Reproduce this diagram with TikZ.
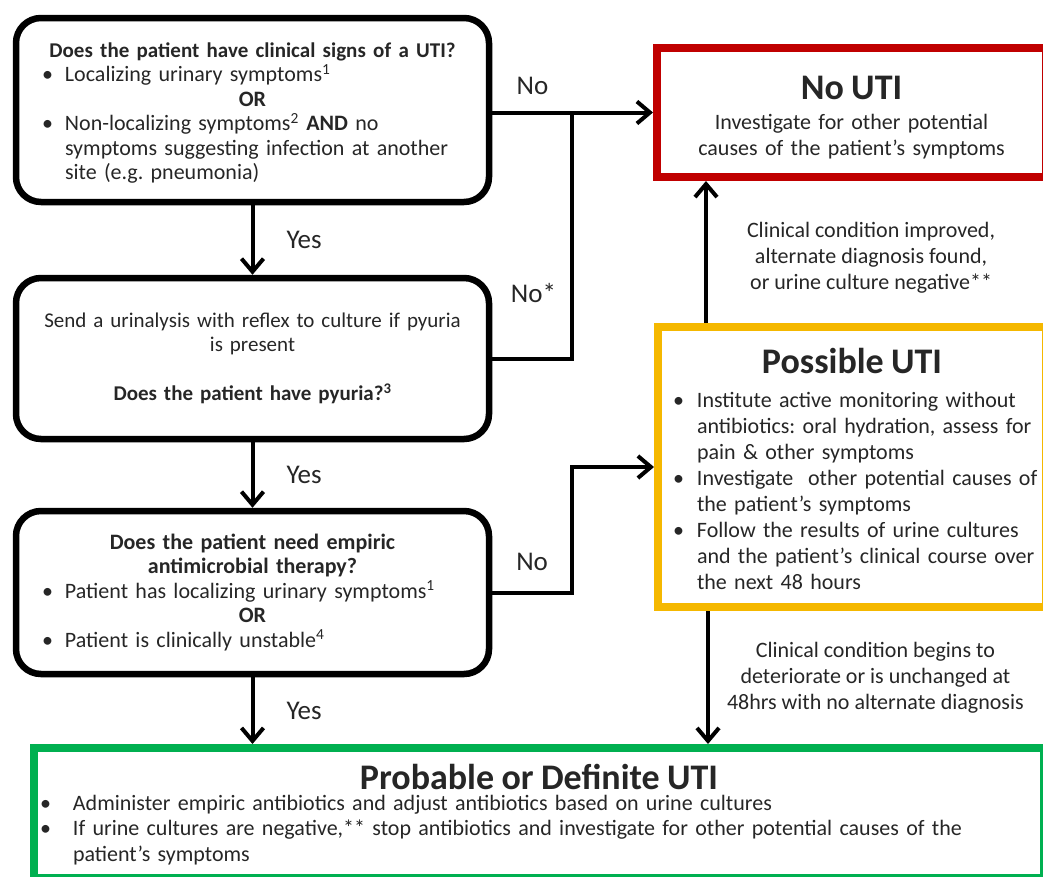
\documentclass[tikz,border=0pt]{standalone}
\usepackage{fontspec}
\setmainfont{Carlito}
\usetikzlibrary{arrows.meta,positioning}
\definecolor{ink}{HTML}{262626}
\definecolor{nored}{HTML}{C00000}
\definecolor{maybegold}{HTML}{F5B800}
\definecolor{yesgreen}{HTML}{00B050}
\newcommand{\bodyfont}{\fontsize{22}{24.5}\selectfont}
\newcommand{\ttlfont}{\fontsize{36}{40}\selectfont\bfseries}
\newcommand{\midline}[1]{\par{\centering #1\par}}
\newcommand{\bitem}[2][23pt]{\par\rightskip=-30pt plus 1fil\hangindent=#1\hangafter=1\noindent\makebox[#1][l]{\textbullet}#2\par}

\begin{document}
\frenchspacing
\begin{tikzpicture}[x=1pt,y=-1pt]
    \tikzstyle{qbox}=[draw, line width=6.5pt, rounded corners=25pt, minimum width=473pt, inner sep=0pt, text width=421pt, align=left, text=ink, font=\bodyfont]
    \tikzstyle{outbox}=[draw, line width=8pt, inner sep=0pt, align=left, text=ink, font=\bodyfont]
    \tikzstyle{lbl}=[inner sep=0pt, text=ink, font=\fontsize{27}{30}\selectfont]
    \tikzstyle{note}=[inner sep=0pt, text=ink, align=center, font=\fontsize{22}{26}\selectfont]
    \tikzstyle{line}=[line width=4pt]
    \tikzstyle{conn}=[line width=4pt, -{Straight Barb[length=13pt,width=22pt]}]
    \path[use as bounding box, clip] (0,0) rectangle (1043,876);

    \node[qbox, minimum height=184pt] (q1) at (252.5,110) {
        \midline{\fontsize{21}{24.5}\selectfont\textbf{Does the patient have clinical signs of a UTI?}}
        \bitem{Localizing urinary symptoms\textsuperscript{1}}
        \midline{\textbf{OR}}
        \bitem{Non-localizing symptoms\textsuperscript{2} \textbf{AND} no\newline symptoms suggesting infection at another\newline site (e.g. pneumonia)}
        \vspace{4pt}
    };
    \node[qbox, minimum height=161pt, text width=440pt, align=center, font=\fontsize{21}{24.5}\selectfont] (q2) at (252.5,358.5) {
        Send a urinalysis with reflex to culture if pyuria\\is present\\[24.5pt]
        \textbf{Does the patient have pyuria?\textsuperscript{3}}
    };
    \node[qbox, minimum height=163pt] (q3) at (252.5,592.5) {
        \midline{\textbf{Does the patient need empiric}\\\textbf{antimicrobial therapy?}}
        \bitem{Patient has localizing urinary symptoms\textsuperscript{1}}
        \midline{\textbf{OR}}
        \bitem{Patient is clinically unstable\textsuperscript{4}}
        \vspace{9pt}
    };

    \node[outbox, draw=nored, minimum width=389pt, minimum height=129pt, text width=360pt, align=center, font=\fontsize{22}{26}\selectfont] (nouti) at (851.5,112.5) {
        {\ttlfont No UTI\par}\vspace{3.5pt}
        Investigate for other potential\\causes of the patient's symptoms\par
        \vspace{-10pt}
    };
    \node[outbox, draw=maybegold, minimum width=388pt, minimum height=280pt, text width=358pt, font=\fontsize{22}{26}\selectfont] (poss) at (852,467) {
        \midline{\ttlfont Possible UTI}\vspace{8pt}
        \bitem[24pt]{Institute active monitoring without\newline antibiotics: oral hydration, assess for\newline pain \& other symptoms}
        \bitem[24pt]{Investigate \ other potential causes of\newline the patient's symptoms}
        \bitem[24pt]{Follow the results of urine cultures\newline and the patient's clinical course over\newline the next 48 hours}
        \vspace{11pt}
    };
    \node[outbox, draw=yesgreen, minimum width=1010pt, minimum height=130pt, text width=998pt, font=\fontsize{22}{25.5}\selectfont] (prob) at (539,813) {
        \midline{\ttlfont Probable or Definite UTI}\vspace{-4.5pt}
        \bitem[33pt]{Administer empiric antibiotics and adjust antibiotics based on urine cultures}
        \bitem[33pt]{If urine cultures are negative,** stop antibiotics and investigate for other potential causes of the\newline patient's symptoms}
        \vspace{12pt}
    };

    \coordinate (nojoin) at (572,112.5);
    \draw[conn] (q1.east |- nouti.west) -- node[lbl, pos=0.25, above=16pt] {No} (nouti.west);
    \draw[line] (q2.east) -| node[lbl, pos=0.633, left=14pt] {No*} (nojoin);
    \draw[conn] (q3.east) -- node[lbl, above=20pt] {No} (q3.east -| nojoin) |- (poss.west);

    \draw[conn] (q1.south) -- node[lbl, right=32pt] {Yes} (q2.north);
    \draw[conn] (q2.south) -- node[lbl, right=32pt] {Yes} (q3.north);
    \draw[conn] (q3.south) -- node[lbl, right=32pt] {Yes} (q3.south |- prob.north);

    \draw[conn] ([xshift=52pt]poss.north west) -- node[note, right=39pt, yshift=-6pt] {Clinical condition improved,\\alternate diagnosis found,\\or urine culture negative**} ([xshift=52pt]poss.north west |- nouti.south);
    \draw[conn] ([xshift=54pt]poss.south west) -- node[note, right=17pt] {Clinical condition begins to\\deteriorate or is unchanged at\\48hrs with no alternate diagnosis} ([xshift=54pt]poss.south west |- prob.north);
\end{tikzpicture}
\end{document}
